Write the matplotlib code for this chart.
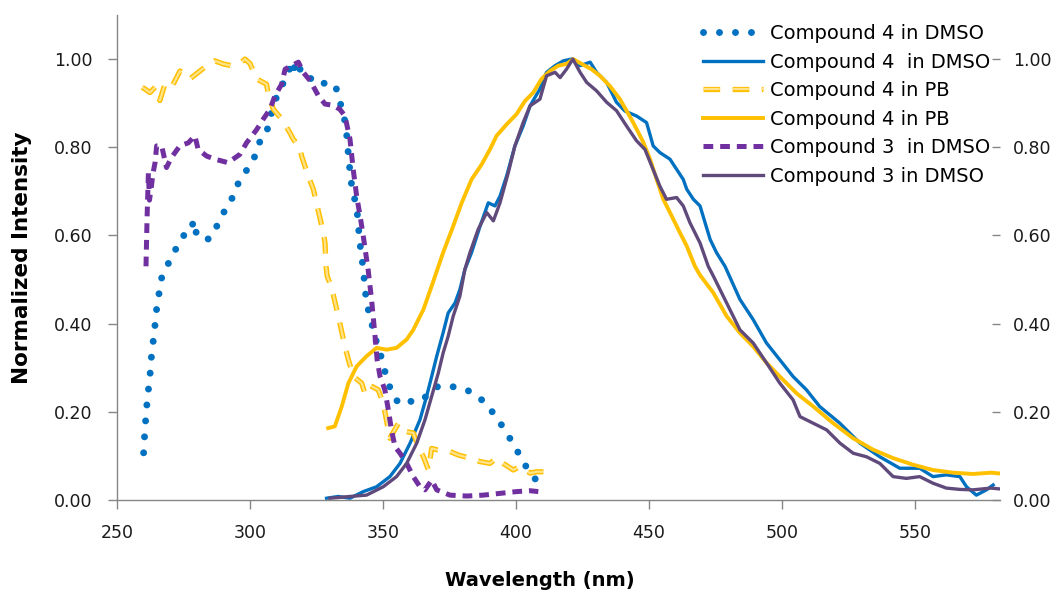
import matplotlib
matplotlib.use("Agg")
import matplotlib.pyplot as plt
import matplotlib.patheffects as pe

plt.rcParams['font.family'] = ['DejaVu Sans']
plt.rcParams['lines.scale_dashes'] = False

# ---- data -------------------------------------------------------------
# Compound 4 in DMSO (excitation, dotted)
c4_dmso_exc_wl = [260, 260.5, 261, 261.5, 262, 262.5, 263, 264, 265, 266.8, 268.6, 270.5,
                  273.3, 275.6, 277.1, 279, 280, 282.4, 284.7, 287.2, 289.7, 292.7, 294.4,
                  297.7, 300, 302.3, 303.8, 305.9, 308.8, 310.6, 311.9, 313.2, 314.4, 316,
                  317.5, 318.8, 321.5, 323.5, 326, 330, 332, 333.5, 335, 336.3, 336.5, 337.3,
                  337.6, 338.8, 340.1, 340.7, 341.1, 342, 342.6, 343.2, 343.8, 345.3, 346.6,
                  348.2, 350.1, 350.7, 352, 353.9, 356.4, 358.9, 362, 365, 367.7, 370.8, 375.2,
                  380.8, 385.8, 389.6, 393.3, 396.5, 399.6, 402.5, 405.3, 409.4, 410]
c4_dmso_exc = [0.107, 0.16, 0.2, 0.235, 0.26, 0.29, 0.33, 0.38, 0.44, 0.504, 0.527, 0.553,
               0.581, 0.605, 0.606, 0.634, 0.598, 0.592, 0.592, 0.617, 0.649, 0.673, 0.709,
               0.733, 0.767, 0.782, 0.815, 0.826, 0.894, 0.924, 0.939, 0.953, 0.97, 0.996,
               0.962, 0.977, 0.974, 0.947, 0.947, 0.943, 0.943, 0.909, 0.879, 0.84, 0.807, 0.773,
               0.735, 0.697, 0.663, 0.629, 0.591, 0.553, 0.521, 0.485, 0.447, 0.413, 0.379,
               0.345, 0.311, 0.292, 0.265, 0.235, 0.217, 0.22, 0.227, 0.227, 0.246, 0.258, 0.258,
               0.252, 0.235, 0.212, 0.182, 0.152, 0.121, 0.089, 0.061, 0.033, 0.03]

# Compound 4 in DMSO (emission, solid)
c4_dmso_em_wl = [328.8, 333.2, 337.6, 342.6, 347.6, 352.6, 356.4, 360.2, 363.9, 366.4, 368.3,
                 370.2, 372.6, 374.5, 377.1, 378.9, 380.8, 383.3, 386.5, 389.6, 392.1, 394,
                 396.5, 399.6, 402.7, 405.3, 409, 411.5, 414.7, 417.8, 420.9, 424.1, 427.9,
                 430.3, 434.1, 437.8, 441, 445.3, 449.1, 451.6, 454.1, 457.9, 460.4, 462.9,
                 464.2, 466.7, 469.2, 471.1, 473, 475.4, 478.6, 484.2, 489.2, 494.2, 499.2,
                 504.2, 509.2, 514.2, 521.8, 529.3, 536.8, 544.3, 551.8, 556.8, 561.8, 566.9,
                 569.4, 573.1, 576.9, 579.4]
c4_dmso_em = [0.004, 0.008, 0.004, 0.019, 0.03, 0.053, 0.083, 0.129, 0.182, 0.235, 0.28,
              0.326, 0.379, 0.424, 0.447, 0.477, 0.523, 0.561, 0.621, 0.674, 0.667, 0.689,
              0.735, 0.803, 0.848, 0.894, 0.932, 0.97, 0.985, 0.996, 1.0, 0.985, 0.993,
              0.97, 0.947, 0.902, 0.882, 0.871, 0.856, 0.803, 0.788, 0.773, 0.75, 0.727,
              0.705, 0.682, 0.667, 0.629, 0.591, 0.561, 0.53, 0.455, 0.409, 0.356, 0.318,
              0.28, 0.25, 0.212, 0.174, 0.129, 0.098, 0.072, 0.072, 0.053, 0.057, 0.053,
              0.03, 0.011, 0.023, 0.034]

# Compound 4 in PB (excitation, dashed)
c4_pb_exc_wl = [259.5, 261, 262.4, 264.3, 266.1, 268, 270.5, 273.7, 277.4, 281.2, 283.7,
                286.8, 289.9, 293.1, 296.8, 298.1, 300, 302.5, 306.2, 306.9, 308.8, 311.9,
                315, 316.3, 318.8, 319.4, 321.9, 323.8, 325, 325.7, 327.6, 328.2, 328.6,
                329, 330.7, 333.2, 335.7, 337, 338.9, 342, 343.2, 345, 348.2, 350.1, 352,
                352.6, 355.8, 358.9, 361.4, 363.3, 365.2, 367.1, 368.3, 370.2, 375.2, 378.3,
                382.7, 386.5, 390.2, 392.7, 395.2, 399, 401.5, 405.3, 407.8, 410.3]
c4_pb_exc = [0.936, 0.93, 0.924, 0.936, 0.906, 0.943, 0.936, 0.973, 0.955, 0.973, 0.985,
             0.996, 0.989, 0.985, 0.993, 1.0, 0.99, 0.955, 0.943, 0.92, 0.886, 0.864,
             0.833, 0.818, 0.799, 0.78, 0.735, 0.705, 0.674, 0.655, 0.606, 0.583, 0.53,
             0.508, 0.481, 0.417, 0.348, 0.318, 0.28, 0.265, 0.242, 0.26, 0.25, 0.22, 0.159,
             0.14, 0.174, 0.155, 0.152, 0.121, 0.098, 0.068, 0.117, 0.114, 0.11, 0.102,
             0.095, 0.087, 0.083, 0.095, 0.083, 0.068, 0.076, 0.061, 0.064, 0.064]

# Compound 4 in PB (emission, solid)
c4_pb_em_wl = [329.4, 331.9, 334.5, 337, 340.1, 343.8, 347.6, 351.4, 355.1, 358.9, 361.4,
               365.2, 368.3, 372.6, 376.4, 379.6, 383.3, 387.1, 390.2, 392.7, 396.5, 400.2,
               403.4, 406.5, 409.6, 412.8, 415.9, 419, 421.5, 424.7, 428.4, 431.6, 435.3,
               439.1, 444.1, 447.9, 450.4, 452.9, 455.4, 457.9, 461, 464.2, 467.3, 469.2,
               474.2, 479.2, 484.2, 489.2, 494.2, 499.2, 505.5, 511.8, 519.3, 526.8, 534.3,
               541.8, 549.3, 556.8, 564.3, 571.8, 578.7, 582]
c4_pb_em = [0.163, 0.167, 0.212, 0.265, 0.303, 0.326, 0.345, 0.341, 0.345, 0.364, 0.386,
            0.432, 0.485, 0.561, 0.621, 0.674, 0.727, 0.761, 0.795, 0.826, 0.852, 0.875,
            0.905, 0.924, 0.955, 0.973, 0.985, 0.989, 1.0, 0.989, 0.977, 0.962, 0.939,
            0.909, 0.856, 0.811, 0.773, 0.727, 0.682, 0.652, 0.614, 0.576, 0.53, 0.51,
            0.47, 0.417, 0.379, 0.348, 0.311, 0.28, 0.242, 0.212, 0.174, 0.14, 0.114,
            0.095, 0.08, 0.068, 0.062, 0.059, 0.062, 0.06]

# Compound 3 in DMSO (excitation, dashed)
c3_dmso_exc_wl = [260.9, 261.3, 261.8, 262.2, 262.8, 263.5, 264.3, 264.9, 266.8, 268.6, 270.5,
                  273.6, 276.8, 279.3, 280.5, 283.7, 286.8, 291.8, 296.2, 298.7, 302.5, 305,
                  307.5, 309.4, 311.9, 313.2, 315.6, 318.2, 320, 322.6, 325.7, 328.2, 331.3,
                  333.8, 335.7, 337.6, 338.8, 340.1, 341.4, 342.6, 343.5, 344.4, 345.7, 346.9,
                  347.8, 348.9, 350.7, 352, 353.2, 354.5, 356.4, 358.9, 361.4, 363.9, 365.8,
                  368.3, 370.2, 375.2, 381.5, 387.7, 394, 400.2, 405.3, 408.4]
c3_dmso_exc = [0.53, 0.64, 0.742, 0.68, 0.705, 0.74, 0.765, 0.803, 0.803, 0.754, 0.777,
               0.803, 0.81, 0.826, 0.795, 0.78, 0.773, 0.765, 0.784, 0.81, 0.84, 0.864,
               0.886, 0.917, 0.943, 0.977, 0.985, 0.993, 0.97, 0.951, 0.917, 0.898, 0.895,
               0.886, 0.871, 0.818, 0.75, 0.689, 0.644, 0.598, 0.56, 0.523, 0.455, 0.379,
               0.318, 0.28, 0.25, 0.205, 0.159, 0.121, 0.106, 0.083, 0.053, 0.03, 0.023,
               0.045, 0.023, 0.011, 0.009, 0.011, 0.015, 0.019, 0.021, 0.019]

# Compound 3 in DMSO (emission, solid)
c3_dmso_em_wl = [330.1, 337.6, 343.8, 350.1, 355.1, 358.9, 362.7, 365.8, 368.3, 370.8, 372.6,
                 374.5, 376.4, 378.9, 380.8, 382.7, 385.8, 389, 391.5, 394, 397.1, 399.6,
                 402.7, 405.3, 409, 411.5, 414.7, 416.6, 419, 421.4, 424.1, 426.6, 430.3,
                 434.1, 437.8, 441.6, 445.3, 448.5, 451, 454.1, 456.6, 460.4, 462.9, 465.4,
                 469.2, 472.3, 474.2, 479.2, 484.2, 489.2, 494.2, 499.2, 504.2, 506.8, 511.8,
                 516.8, 521.8, 526.8, 531.8, 536.8, 541.8, 546.8, 551.8, 556.8, 561.8, 566.9,
                 571.8, 578.7, 582]
c3_dmso_em = [0.004, 0.008, 0.011, 0.03, 0.053, 0.083, 0.129, 0.182, 0.235, 0.288, 0.333,
              0.371, 0.417, 0.462, 0.523, 0.561, 0.614, 0.652, 0.633, 0.674, 0.742, 0.803,
              0.856, 0.894, 0.909, 0.962, 0.97, 0.958, 0.977, 1.0, 0.97, 0.947, 0.928,
              0.902, 0.883, 0.848, 0.815, 0.795, 0.758, 0.712, 0.682, 0.686, 0.667, 0.629,
              0.583, 0.53, 0.508, 0.447, 0.386, 0.356, 0.311, 0.265, 0.227, 0.189, 0.174,
              0.159, 0.129, 0.106, 0.098, 0.083, 0.053, 0.049, 0.053, 0.038, 0.027, 0.024,
              0.023, 0.027, 0.025]

x_ticks = [250, 300, 350, 400, 450, 500, 550]
y_ticks = [0.0, 0.2, 0.4, 0.6, 0.8, 1.0]

# ---- style ------------------------------------------------------------
BLUE = '#0070C0'
GOLD = '#FFC000'
GOLD_LIGHT = '#FFE38C'
PURPLE = '#7030A0'
PURPLE_DARK = '#604A7B'
AXIS_GRAY = '#868686'

fig = plt.figure(figsize=(10.58, 5.97), dpi=100)
ax = fig.add_axes([0.1106, 0.1625, 0.8346, 0.8124])

ax.plot(c4_dmso_exc_wl, c4_dmso_exc, color=BLUE, lw=5.0, dashes=(0.01, 11.5),
        dash_capstyle='round', solid_capstyle='round', label='Compound 4 in DMSO')
ax.plot(c4_dmso_em_wl, c4_dmso_em, color=BLUE, lw=2.4, label='Compound 4  in DMSO')
ax.plot(c4_pb_exc_wl, c4_pb_exc, color=GOLD_LIGHT, lw=1.6, dashes=(12, 9),
        dash_capstyle='butt',
        path_effects=[pe.Stroke(linewidth=3.8, foreground=GOLD), pe.Normal()],
        label='Compound 4 in PB')
ax.plot(c4_pb_em_wl, c4_pb_em, color=GOLD, lw=2.8, label='Compound 4 in PB')
ax.plot(c3_dmso_exc_wl, c3_dmso_exc, color=PURPLE, lw=3.6, dashes=(7, 5),
        dash_capstyle='butt', label='Compound 3  in DMSO')
ax.plot(c3_dmso_em_wl, c3_dmso_em, color=PURPLE_DARK, lw=2.4, label='Compound 3 in DMSO')

ax.set_xlim(250, 582)
ax.set_ylim(0, 1.1)
ax.set_xticks(x_ticks)
ax.set_yticks(y_ticks)
ax.set_yticklabels([f'{v:.2f}' for v in y_ticks])

for side in ('top', 'right'):
    ax.spines[side].set_visible(False)
for side in ('left', 'bottom'):
    ax.spines[side].set_color(AXIS_GRAY)
    ax.spines[side].set_linewidth(1.0)
ax.tick_params(axis='both', direction='out', length=6.5, width=1.0, color=AXIS_GRAY,
               labelsize=12.5, labelcolor='#1a1a1a')
ax.tick_params(axis='y', pad=11)
ax.tick_params(axis='x', pad=11)

# secondary scale on the right
ax2 = ax.twinx()
ax2.set_ylim(0, 1.1)
ax2.set_yticks(y_ticks)
ax2.set_yticklabels([f'{v:.2f}' for v in y_ticks])
for side in ('top', 'right', 'left', 'bottom'):
    ax2.spines[side].set_visible(False)
ax2.tick_params(axis='y', direction='in', length=5.8, width=1.0, color=AXIS_GRAY,
                labelsize=12.5, labelcolor='#1a1a1a', pad=9.4)

fig.text(22 / 1058, 1 - 258 / 597, 'Normalized Intensity', rotation=90,
         ha='center', va='center', fontsize=15.5, fontweight='bold')
fig.text(540 / 1058, 1 - 580 / 597, 'Wavelength (nm)', ha='center', va='center',
         fontsize=14, fontweight='bold')

leg = ax.legend(loc='upper left', bbox_to_anchor=(703 / 1058, 1 - 24 / 597),
                bbox_transform=fig.transFigure, frameon=False, fontsize=14,
                handlelength=3.1, handletextpad=0.36, labelspacing=0.49, borderpad=0,
                borderaxespad=0)
leg.set_zorder(5)

fig.savefig('out.png', dpi=100)
